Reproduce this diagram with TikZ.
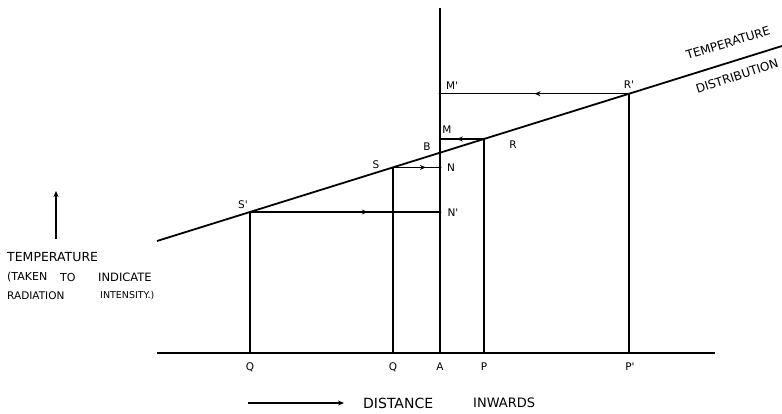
\documentclass[tikz,border=0pt]{standalone}
\usepackage{fontspec}
\setmainfont{DejaVu Sans}
\newfontfamily\handfont{DejaVu Sans}
\usetikzlibrary{arrows.meta,decorations.markings}
\begin{document}
\begin{tikzpicture}[x=1pt,y=-1pt,
  ln/.style={line width=1.8pt},
  thinln/.style={line width=1.4pt},
  lbl/.style={font=\handfont\fontsize{10.5}{12}\selectfont, inner sep=0pt},
  big/.style={font=\handfont\fontsize{12}{14}\selectfont, inner sep=0pt},
  midarrow/.style={postaction={decorate},decoration={markings,mark=at position #1 with {\arrow{Stealth[length=6pt,width=5pt]}}}},
  axdot/.style={circle,fill,inner sep=0pt,minimum size=3pt}]
\useasboundingbox (0,0) rectangle (782,413);
% temperature distribution line
\coordinate (L0) at (157,241);
\coordinate (L1) at (782,46);
\coordinate (Sp) at (250,212.0);
\coordinate (S) at (393,167.4);
\coordinate (B) at (440,152.7);
\coordinate (R) at (484,139.0);
\coordinate (Rp) at (629,93.7);
% baseline points
\coordinate (B0) at (157,353);
\coordinate (B1) at (715,353);
\coordinate (Qp) at (250,353);
\coordinate (Q) at (393,353);
\coordinate (A) at (440,353);
\coordinate (P) at (484,353);
\coordinate (Pp) at (629,353);
\coordinate (Top) at (440,8);

\draw[ln] (L0) -- (L1);
\draw[ln] (B0) -- (B1);
\draw[ln] (A) -- (Top);
\draw[thinln] (Qp) -- (Sp);
\draw[thinln] (Q) -- (S);
\draw[thinln] (P) -- (R);
\draw[thinln] (Pp) -- (Rp);

\coordinate (Mp) at (Rp -| A);
\coordinate (M) at (R -| A);
\coordinate (N) at (S -| A);
\coordinate (Np) at (Sp -| A);
\draw[thinln,midarrow=0.5] (Rp) -- (Mp);
\draw[thinln,midarrow=0.62] (R) -- (M);
\draw[thinln,midarrow=0.7] (S) -- (N);
\draw[thinln,midarrow=0.62] (Sp) -- (Np);
\node[axdot] (dMp) at (Mp) {};
\node[axdot] (dM) at (M) {};
\node[axdot] (dN) at (N) {};
\node[axdot] (dNp) at (Np) {};

% point labels
\node[lbl] (tMp) at (452,86) {M'};
\node[lbl] (tM) at (447,130) {M};
\node[lbl] (tB) at (427,147) {B};
\node[lbl] (tR) at (513,145) {R};
\node[lbl] (tN) at (451,168) {N};
\node[lbl] (tNp) at (453,213) {N'};
\node[lbl] (tS) at (376,165) {S};
\node[lbl] (tSp) at (243,205) {S'};
\node[lbl] (tRp) at (629,85) {R'};

% baseline labels
\node[lbl] (tQp) at (250,367) {Q};
\node[lbl] (tQ) at (393,367) {Q};
\node[lbl] (tA) at (440,367) {A};
\node[lbl] (tP) at (484,367) {P};
\node[lbl] (tPp) at (630,367) {P'};

% curve label
\node[big,rotate=17] (tTemp) at (728,43) {TEMPERATURE};
\node[big,rotate=18] (tDist) at (737,76) {DISTRIBUTION};

% vertical axis legend
\coordinate (va0) at (56,239);
\coordinate (va1) at (56,191);
\draw[line width=1.4pt,-{Stealth[length=6pt,width=5pt]}] (va0) -- (va1);
\node[lbl,anchor=west,font=\handfont\fontsize{12.5}{14}\selectfont] (tT) at (7,257) {TEMPERATURE};
\node[lbl,anchor=west,font=\handfont\fontsize{11}{13}\selectfont] (tTaken) at (7,277) {(TAKEN};
\node[lbl,anchor=west,font=\handfont\fontsize{11}{13}\selectfont] (tTo) at (60,277) {TO};
\node[lbl,anchor=west,font=\handfont\fontsize{11.5}{13}\selectfont] (tInd) at (98,277) {INDICATE};
\node[lbl,anchor=west,font=\handfont\fontsize{10.5}{12}\selectfont] (tRad) at (7,296) {RADIATION};
\node[lbl,anchor=west,font=\handfont\fontsize{9.5}{12}\selectfont] (tInt) at (100,296) {INTENSITY.)};

% horizontal axis legend
\coordinate (ha0) at (248,403);
\coordinate (ha1) at (344,403);
\draw[line width=1.4pt,-{Stealth[length=6pt,width=5pt]}] (ha0) -- (ha1);
\node[lbl,anchor=west,font=\handfont\fontsize{14}{16}\selectfont] (tDistance) at (363,403) {DISTANCE};
\node[lbl,anchor=west,font=\handfont\fontsize{13}{15}\selectfont] (tInw) at (473,403) {INWARDS};
\end{tikzpicture}
\end{document}
